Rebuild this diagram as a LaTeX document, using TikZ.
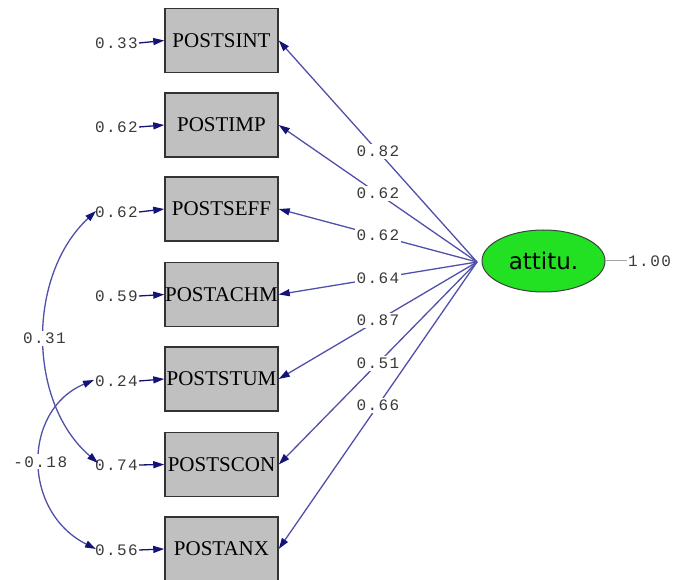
\documentclass[tikz,border=0pt]{standalone}
\usepackage{fontspec}
\setmainfont{Liberation Serif}
\newfontfamily\numfont[LetterSpace=9]{Liberation Mono}
\newfontfamily\latfont{DejaVu Sans}
\usetikzlibrary{arrows.meta,shapes.geometric}
\definecolor{pathblue}{HTML}{5050AA}
\definecolor{tipnavy}{HTML}{141478}
\definecolor{boxgray}{HTML}{C0C0C0}
\definecolor{numgray}{HTML}{3A3A3A}
\definecolor{latgreen}{HTML}{22E022}
\tikzset{
  obsbox/.style={draw=black!80, line width=1.5pt, fill=boxgray, minimum width=113pt,
    minimum height=64pt, inner sep=0pt, font=\fontsize{21}{24}\selectfont},
  latent/.style={ellipse, draw=black!75, line width=1pt, fill=latgreen,
    minimum width=123pt, minimum height=62pt, inner sep=0pt,
    font=\latfont\fontsize{23}{27}\selectfont},
  numlab/.style={text=numgray, inner sep=1pt, font=\numfont\fontsize{16}{18}\selectfont},
  coefflab/.style={numlab, fill=white, inner sep=2pt},
  tipmark/.style={-{Triangle[length=11pt,width=7pt,color=tipnavy]}},
  loading/.style={draw=pathblue, line width=1.3pt, tipmark},
  errarrow/.style={draw=tipnavy, line width=1.3pt, tipmark},
  covcurve/.style={draw=pathblue, line width=1.3pt,
    {Triangle[length=11pt,width=7pt,color=tipnavy]}-{Triangle[length=11pt,width=7pt,color=tipnavy]}}
}
\begin{document}
\begin{tikzpicture}[x=1pt,y=-1pt]
\useasboundingbox (0,0) rectangle (673,580);

% observed indicators
\node[obsbox] (sint) at (221.5,40.5)  {POSTSINT};
\node[obsbox] (imp)  at (221.5,125)   {POSTIMP};
\node[obsbox] (seff) at (221.5,209)   {POSTSEFF};
\node[obsbox] (achm) at (221.5,294.5) {POSTACHM};
\node[obsbox] (stum) at (221.5,379)   {POSTSTUM};
\node[obsbox] (scon) at (221.5,464.5) {POSTSCON};
\node[obsbox] (anx)  at (221.5,549)   {POSTANX};

% latent factor
\node[latent] (att) at (543.5,261) {attitu.};
\coordinate (src) at (477,262);

% error variances
\node[numlab, anchor=east] (e1) at (139,43)  {0.33};
\node[numlab, anchor=east] (e2) at (139,127) {0.62};
\node[numlab, anchor=east] (e3) at (139,212) {0.62};
\node[numlab, anchor=east] (e4) at (139,296) {0.59};
\node[numlab, anchor=east] (e5) at (139,381) {0.24};
\node[numlab, anchor=east] (e6) at (139,465) {0.74};
\node[numlab, anchor=east] (e7) at (139,550) {0.56};

\foreach \e/\b in {e1/sint,e2/imp,e3/seff,e4/achm,e5/stum,e6/scon,e7/anx}
  \draw[errarrow] (\e.east) -- (\b.west);

% factor loadings
\draw[loading] (src) -- node[coefflab]{0.82} (sint.east);
\draw[loading] (src) -- node[coefflab]{0.62} (imp.east);
\draw[loading] (src) -- node[coefflab]{0.62} (seff.east);
\draw[loading] (src) -- node[coefflab]{0.64} (achm.east);
\draw[loading] (src) -- node[coefflab]{0.87} (stum.east);
\draw[loading] (src) -- node[coefflab]{0.51} (scon.east);
\draw[loading] (src) -- node[coefflab]{0.66} (anx.east);

% factor variance
\coordinate (varend) at (627,261);
\draw[draw=black!35, line width=1pt] (att.east) -- (varend);
\node[numlab, anchor=west] (fv) at (varend) {1.00};

% error covariances
\coordinate (c3) at (96,211);
\coordinate (c6) at (98,463);
\coordinate (c5) at (94,380);
\coordinate (c7) at (96,549);
\draw[covcurve] (c6) .. controls (27,402) and (27,275) .. node[coefflab]{0.31} (c3);
\draw[covcurve] (c7) .. controls (22,512) and (22,410) .. node[coefflab]{-0.18} (c5);
\end{tikzpicture}
\end{document}
